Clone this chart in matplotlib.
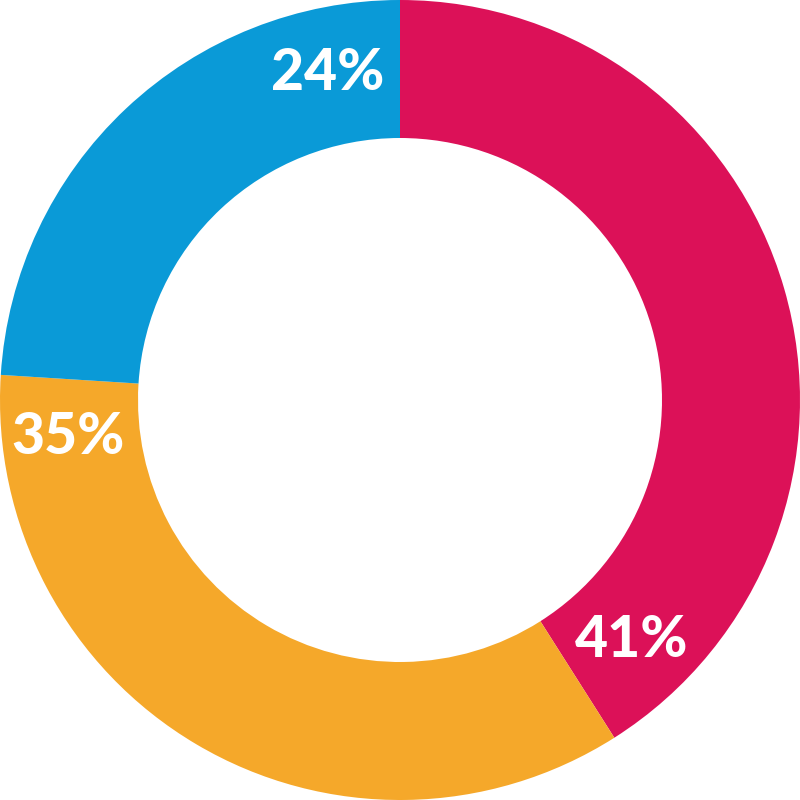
import numpy as np
import matplotlib.pyplot as plt

# segment shares, clockwise from 12 o'clock
labels = ["41%", "35%", "24%"]
values = [41, 35, 24]
colours = ["#DC1158", "#F5A82A", "#0A9AD7"]

fig = plt.figure(figsize=(8, 8), dpi=100)
ax = fig.add_axes([0, 0, 1, 1])
ax.pie(values, colors=colours, startangle=90, counterclock=False,
       radius=1.0, wedgeprops=dict(width=0.345, linewidth=0))

# labels sit near the far (clockwise) end of each segment
ends = 90 - np.cumsum(values) / sum(values) * 360
offsets = [11.5, 10.0, 12.5]
for lab, end, off in zip(labels, ends, offsets):
    ang = np.deg2rad(end + off)
    r = 0.835
    ax.text(r * np.cos(ang), r * np.sin(ang), lab, ha="center", va="center",
            color="white", fontsize=41, fontweight="black", family="Lato")

ax.set_xlim(-1, 1)
ax.set_ylim(-1, 1)
ax.set_aspect("equal")
ax.axis("off")
fig.savefig("out.png", dpi=100)
